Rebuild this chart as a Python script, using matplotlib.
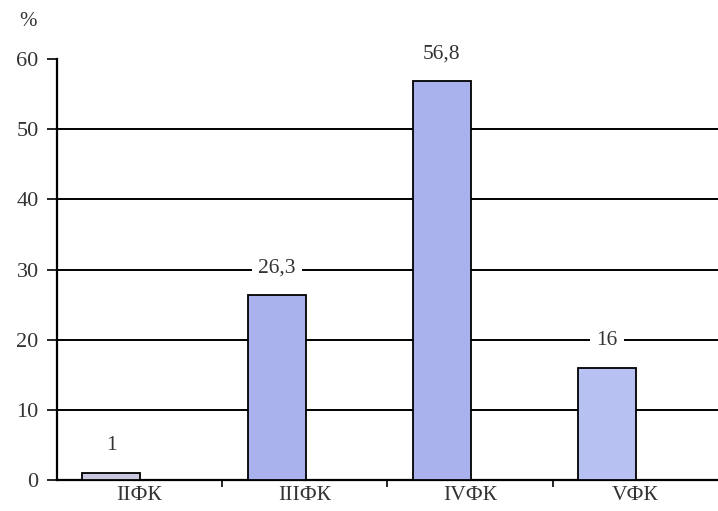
import matplotlib
matplotlib.use("Agg")
import matplotlib.pyplot as plt
import numpy as np

categories = ["IIФК", "IIIФК", "IVФК", "VФК"]
values = [1, 26.3, 56.8, 16]
value_labels = ["1", "26,3", "56,8", "16"]
yticks = [0, 10, 20, 30, 40, 50, 60]

plt.rcParams['font.family'] = ['Liberation Serif', 'DejaVu Serif']

fig = plt.figure(figsize=(7.18, 5.11), dpi=100)
ax = fig.add_axes([0.079, 0.0607, 0.921, 0.8238])

x = np.arange(len(categories))
colors = ["#c9c9df", "#aab2ee", "#aab2ee", "#b8c2f2"]
ax.bar(x - 0.17, values, width=0.35, color=colors, edgecolor="black", linewidth=1.3, zorder=3)

for xi, v, lab in zip(x, values, value_labels):
    ax.annotate(lab, (xi - 0.17, v), xytext=(0, 13), textcoords="offset points",
                ha="center", va="bottom", fontsize=15.5, color="#333333",
                bbox=dict(facecolor="white", edgecolor="none", pad=4.5), zorder=4)

ax.set_xlim(-0.5, 3.5)
ax.set_ylim(0, 60)
ax.set_yticks(yticks)
ax.set_yticklabels([str(t) for t in yticks], fontsize=16, color="#333333")
for t in yticks[1:-1]:
    ax.axhline(t, color="black", linewidth=1.4, zorder=1)

ax.set_xticks(x)
ax.set_xticklabels(categories, fontsize=15.5, color="#333333")
ax.tick_params(axis="x", length=0, pad=4)
ax.set_xticks([0.5, 1.5, 2.5], minor=True)
ax.tick_params(axis="x", which="minor", length=5, width=1.2, direction="out")
ax.tick_params(axis="y", length=7, width=1.2, direction="out", pad=6)

for s in ["top", "right"]:
    ax.spines[s].set_visible(False)
ax.spines["left"].set_linewidth(1.6)
ax.spines["bottom"].set_linewidth(1.6)

fig.text(28/718, 1 - 22/511, "%", fontsize=15, color="#333333", ha="center", va="center")

fig.savefig("out.png", dpi=100)
